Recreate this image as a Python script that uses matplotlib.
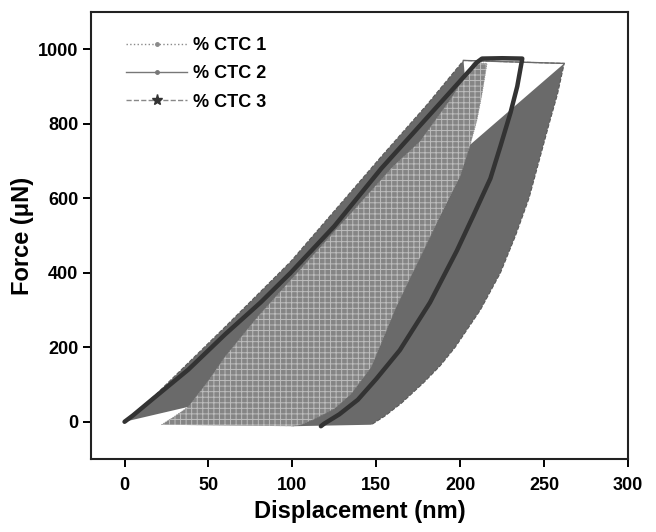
import numpy as np
import matplotlib.pyplot as plt
from matplotlib.lines import Line2D

plt.rcParams['font.family'] = ['Liberation Sans', 'DejaVu Sans']
plt.rcParams['font.weight'] = 'bold'
plt.rcParams['hatch.linewidth'] = 0.7

labels = ["% CTC 1", "% CTC 2", "% CTC 3"]

# CTC 1: loading + hold + unloading (nm, uN)
x1 = [22, 30, 38, 50, 60, 80, 110, 140, 160, 176, 195, 208, 216,
      213, 210, 206, 200, 190, 178, 162, 147, 135, 125, 112, 105, 100]
f1 = [-8, 15, 40, 110, 175, 285, 435, 585, 685, 752, 870, 965, 962,
      880, 810, 744, 660, 570, 459, 310, 147, 75, 35, 5, -8, -12]

# CTC 2
x2 = [0, 5, 17, 38, 60, 81, 99, 125, 153, 180, 200, 210, 213, 225, 237,
      234, 230, 224, 218, 208, 198, 182, 164, 150, 139, 128, 119, 117]
f2 = [0, 17, 62, 140, 235, 320, 400, 525, 680, 815, 915, 965, 975, 976, 975,
      900, 830, 740, 653, 555, 459, 320, 192, 115, 59, 20, -5, -12]

# CTC 3
x3 = [0, 18, 60, 99, 153, 180, 202, 262,
      258, 253, 247, 241, 233, 224, 212, 197, 188, 178, 165, 155, 147]
f3 = [0, 70, 255, 430, 712, 850, 970, 962,
      880, 800, 700, 600, 500, 400, 300, 200, 150, 104, 50, 15, -8]
# edges closing the CTC 3 shaded area (notch at the top, base at the bottom)
notch3_x, notch3_f = [206], [744]
base3_x, base3_f = [100, 38], [-12, 40]

fig = plt.figure(figsize=(6.56, 5.32), dpi=100)
ax = fig.add_axes([0.1387, 0.1372, 0.8186, 0.8402])

# CTC 3 shaded area
px = x3[:7] + notch3_x + x3[7:] + base3_x
pf = f3[:7] + notch3_f + f3[7:] + base3_f
ax.fill(px, pf, facecolor='#6a6a6a', edgecolor='none', zorder=1)
ax.plot(x3, f3, color='#5a5a5a', lw=0.8, ls='--', zorder=2)
ax.plot(x3[6:8], f3[6:8], color='#6a6a6a', lw=1.0, zorder=4)

# CTC 1 hatched area
ax.fill(x1, f1, facecolor='#858585', edgecolor='#bdbdbd', lw=0,
        hatch='+++', zorder=3)
ax.plot(x1, f1, color='#8a8a8a', lw=0.6, ls=':', zorder=3)

# CTC 2
ax.plot(x2, f2, color='#333333', lw=3.2, solid_joinstyle='round',
        solid_capstyle='round', zorder=5)

ax.set_xlim(-20, 300)
ax.set_ylim(-100, 1100)
ax.set_xticks(np.arange(0, 301, 50))
ax.set_yticks(np.arange(0, 1001, 200))
ax.tick_params(direction='out', length=6, width=1.4, labelsize=13)
ax.tick_params(axis='x', pad=7)
ax.tick_params(axis='y', pad=3)
for s in ax.spines.values():
    s.set_linewidth(1.5)
    s.set_color('#222222')
ax.set_xlabel("Displacement (nm)", fontsize=17, fontweight='bold', labelpad=4)
ax.set_ylabel("Force (μN)", fontsize=17, fontweight='bold', labelpad=3)

handles = [
    Line2D([], [], color='#8a8a8a', ls=':', lw=1.0, marker='o', ms=2.5),
    Line2D([], [], color='#777777', ls='-', lw=1.0, marker='o', ms=2.5),
    Line2D([], [], color='#888888', ls='--', lw=1.0, marker='*', ms=8,
           markerfacecolor='#333333', markeredgecolor='#333333'),
]
ax.legend(handles, labels, loc='upper left', bbox_to_anchor=(0.035, 0.98),
          frameon=False, handlelength=3.4, handletextpad=0.3,
          labelspacing=0.62, prop={'weight': 'bold', 'size': 13})

fig.savefig("out.png", dpi=100)
